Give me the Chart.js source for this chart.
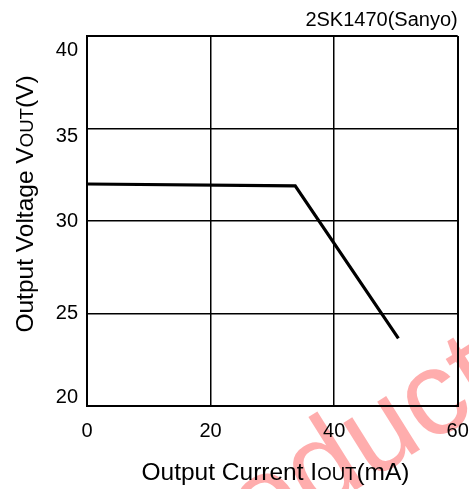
<!DOCTYPE html>
<html>
<head>
<meta charset="utf-8">
<script src="https://cdn.jsdelivr.net/npm/chart.js@4"></script>
<style>
html,body{margin:0;padding:0;background:#fff;}
#wrap{width:469px;height:489px;position:relative;}
</style>
</head>
<body>
<div id="wrap"><canvas id="c" width="469" height="489"></canvas></div>
<script>
// Data
const currentMA = [0, 33.7, 50.4];
const voltageV = [32.0, 31.9, 23.65];
const xTicks = [0, 20, 40, 60];
const yTicks = [20, 25, 30, 35, 40];
const chartTitle = '2SK1470(Sanyo)';
const xTitleParts = [['Output Current I', 1], ['OUT', 0.76], ['(mA)', 1]];
const yTitleParts = [['Output Voltage V', 1], ['OUT', 0.76], ['(V)', 1]];
const watermark = 'Product';

const FONT = '"Liberation Sans", Arial, sans-serif';

function drawParts(ctx, parts, size, cx, baseline) {
  let widths = parts.map(([t, s]) => { ctx.font = (size * s) + 'px ' + FONT; return ctx.measureText(t).width; });
  let total = widths.reduce((a, b) => a + b, 0);
  let x = cx - total / 2;
  ctx.textAlign = 'left';
  ctx.textBaseline = 'alphabetic';
  parts.forEach(([t, s], i) => {
    ctx.font = (size * s) + 'px ' + FONT;
    ctx.fillText(t, x, baseline);
    x += widths[i];
  });
}

const decor = {
  id: 'decor',
  beforeDraw(chart) {
    const ctx = chart.ctx;
    ctx.save();
    ctx.fillStyle = '#fff';
    ctx.fillRect(0, 0, chart.width, chart.height);
    ctx.translate(506, 396);
    ctx.rotate(-32 * Math.PI / 180);
    ctx.font = '120px ' + FONT;
    ctx.fillStyle = 'rgba(255,40,40,0.38)';
    ctx.textAlign = 'right';
    ctx.textBaseline = 'alphabetic';
    ctx.fillText(watermark, 0, 0);
    ctx.restore();
  },
  afterDraw(chart) {
    const ctx = chart.ctx;
    const a = chart.chartArea;
    ctx.save();
    ctx.fillStyle = '#000';
    ctx.font = '20px ' + FONT;
    ctx.textAlign = 'right';
    ctx.textBaseline = 'alphabetic';
    ctx.fillText(chartTitle, a.right, 25.5);
    drawParts(ctx, xTitleParts, 24.5, 275.5, 480);
    ctx.translate(33, 204);
    ctx.rotate(-Math.PI / 2);
    drawParts(ctx, yTitleParts, 24.5, 0, 0);
    ctx.restore();
  }
};

const gridW = (ctx) => (ctx.index === 0 || ctx.tick && ctx.index === ctx.scale.ticks.length - 1) ? 2 : 1.5;
// per-label vertical nudges of the y tick labels, as in the reference
const yLabelShift = {40: 14, 35: 8, 20: -9};

new Chart(document.getElementById('c'), {
  type: 'scatter',
  data: {
    datasets: [{
      data: currentMA.map((x, i) => ({x, y: voltageV[i]})),
      showLine: true,
      borderColor: '#000',
      borderWidth: 3.2,
      pointRadius: 0,
      tension: 0,
      fill: false
    }]
  },
  options: {
    responsive: false,
    animation: false,
    devicePixelRatio: 1,
    layout: {padding: {left: 0, top: 36, right: 0, bottom: 0}},
    plugins: {legend: {display: false}, tooltip: {enabled: false}, title: {display: false}},
    scales: {
      x: {
        type: 'linear', min: 0, max: 60,
        afterBuildTicks: s => { s.ticks = xTicks.map(v => ({value: v})); },
        afterFit: s => { s.height = 83; s.paddingRight = 11.3; s.paddingLeft = 0; },
        ticks: {color: '#000', font: {family: FONT, size: 20}, padding: 13, maxRotation: 0},
        grid: {color: '#000', lineWidth: gridW, drawTicks: false},
        border: {color: '#000', width: 2}
      },
      y: {
        type: 'linear', min: 20, max: 40,
        afterBuildTicks: s => { s.ticks = yTicks.map(v => ({value: v})); },
        afterFit: s => { s.width = 87; s.paddingTop = 0; s.paddingBottom = 0; },
        ticks: {
          color: '#000', padding: 9,
          font: (ctx) => {
            const sh = ctx.tick ? (yLabelShift[ctx.tick.value] || 0) : 0;
            return {family: FONT, size: 20, lineHeight: sh ? Math.abs(sh) * 2 + 'px' : 1.2};
          },
          callback: (v) => {
            const sh = yLabelShift[v] || 0;
            const s = String(v);
            return sh > 0 ? ['', s] : sh < 0 ? [s, ''] : s;
          }
        },
        grid: {color: '#000', lineWidth: gridW, drawTicks: false},
        border: {color: '#000', width: 2}
      }
    }
  },
  plugins: [decor]
});
</script>
</body>
</html>
